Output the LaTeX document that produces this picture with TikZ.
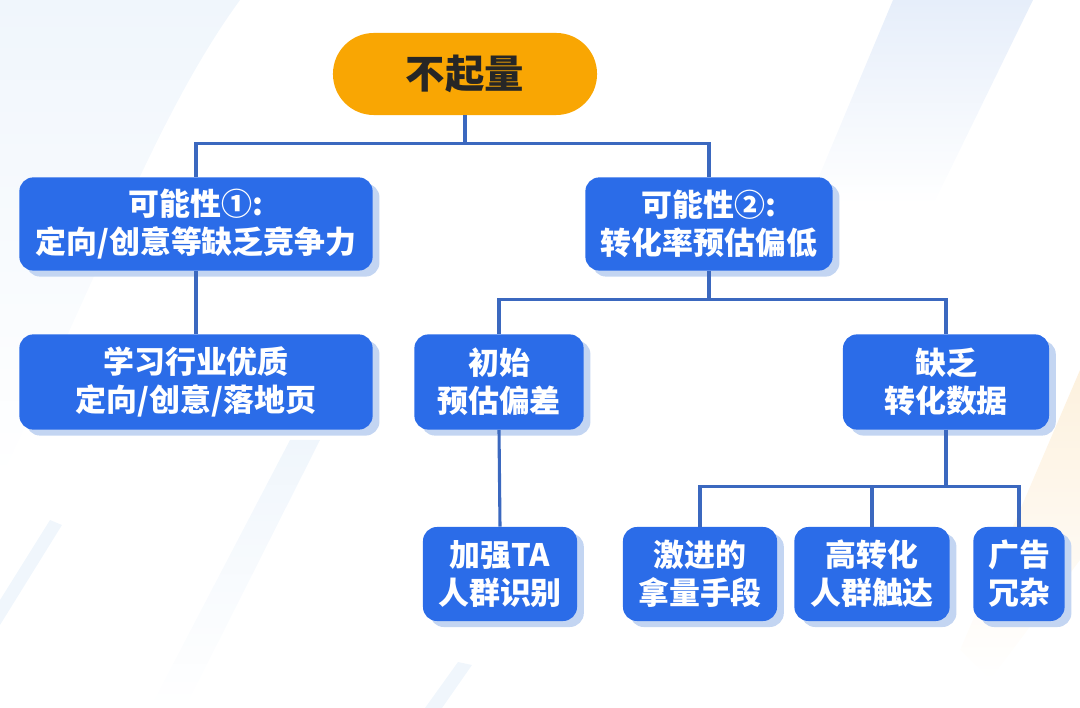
\documentclass[tikz,border=0pt]{standalone}
\usepackage{fontspec}
\setmainfont{Noto Sans CJK SC}
\usetikzlibrary{shadows}
\definecolor{boxblue}{HTML}{2B6CE8}
\definecolor{linkblue}{HTML}{3B68BF}
\definecolor{shadeblue}{HTML}{C3D5F2}
\definecolor{topgold}{HTML}{F9A603}
\definecolor{bgblue}{HTML}{E6EEFA}
\definecolor{bgpale}{HTML}{F0F6FC}
\definecolor{bgorange}{HTML}{FDF1DE}
\tikzset{
  box/.style={rectangle, rounded corners=0.35cm, fill=boxblue, text=white,
    font=\fontsize{22}{27}\selectfont\bfseries, align=center,
    drop shadow={shadow xshift=0.17cm, shadow yshift=-0.15cm, fill=shadeblue, opacity=1}},
  link/.style={draw=linkblue, line width=2.2pt}
}
\begin{document}
\begin{tikzpicture}[x=0.025cm, y=-0.025cm]
  \useasboundingbox (0,0) rectangle (1080,708);
  % fondo
  \shade[top color=bgpale, bottom color=white] (0,0) -- (240,0) .. controls (160,110) and (110,250) .. (0,480) -- cycle;
  \shade[top color=bgblue, bottom color=white] (893,0) -- (1033,0) -- (933,205) -- (807,205) -- cycle;
  \shade[top color=bgpale, bottom color=white] (320,440) -- (290,440) -- (150,708) -- (185,708) -- cycle;
  \fill[bgpale] (62,525) -- (50,520) -- (0,600) -- (0,625) -- cycle;
  \fill[bgpale] (472,665) -- (458,662) -- (425,708) -- (442,708) -- cycle;
  \shade[top color=bgorange, bottom color=white] (1080,370) -- (1080,560) -- (990,680) -- (960,650) -- cycle;
  % raiz
  \node[rounded corners=1.02cm, fill=topgold, minimum width=6.6cm, minimum height=2.05cm,
    font=\fontsize{28}{32}\selectfont\bfseries, text=black!85] (top) at (465,74) {不起量};
  % nivel 1
  \node[box, minimum width=8.83cm, minimum height=2.33cm] (pa) at (196,224) {可能性①:\\定向/创意等缺乏竞争力};
  \node[box, minimum width=6.18cm, minimum height=2.33cm] (pb) at (709,224) {可能性②:\\转化率预估偏低};
  % nivel 2
  \node[box, minimum width=8.83cm, minimum height=2.38cm] (pc) at (196,382) {学习行业优质\\定向/创意/落地页};
  \node[box, minimum width=4.23cm, minimum height=2.38cm] (pd) at (499,382) {初始\\预估偏差};
  \node[box, minimum width=5.15cm, minimum height=2.38cm] (pe) at (946,382) {缺乏\\转化数据};
  % nivel 3
  \node[box, minimum width=3.85cm, minimum height=2.35cm] (pi) at (500,574) {加强TA\\人群识别};
  \node[box, minimum width=3.85cm, minimum height=2.35cm] (pf) at (700,574) {激进的\\拿量手段};
  \node[box, minimum width=3.88cm, minimum height=2.35cm] (pg) at (872,574) {高转化\\人群触达};
  \node[box, minimum width=2.28cm, minimum height=2.35cm] (ph) at (1019,574) {广告\\冗杂};
  % conexiones
  \draw[link] (top.south) -- ++(0,28) -| (pa.north);
  \draw[link] (top.south) -- ++(0,28) -| (pb.north);
  \draw[link] (pa.south) -- (pc.north);
  \draw[link] (pb.south) -- ++(0,29) -| (pd.north);
  \draw[link] (pb.south) -- ++(0,29) -| (pe.north);
  \draw[link] (pd.south) -- (pi.north);
  \draw[link] (pe.south) -- ++(0,57) -| (pf.north);
  \draw[link] (pe.south) -- ++(0,57) -| (pg.north);
  \draw[link] (pe.south) -- ++(0,57) -| (ph.north);
\end{tikzpicture}
\end{document}
